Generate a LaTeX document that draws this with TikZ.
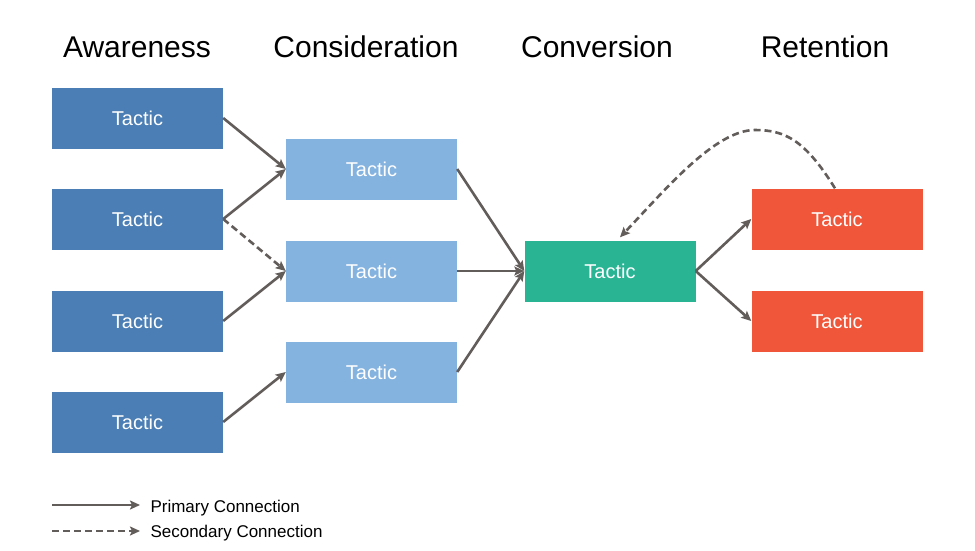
\documentclass[tikz,border=0pt]{standalone}
\usepackage{fontspec}
\setmainfont{Liberation Sans}
\usetikzlibrary{arrows.meta}
\definecolor{awareblue}{HTML}{4A7EB4}
\definecolor{considblue}{HTML}{85B3E0}
\definecolor{convgreen}{HTML}{29B494}
\definecolor{retred}{HTML}{F0573A}
\definecolor{linkgray}{HTML}{625D5A}
\begin{document}
\begin{tikzpicture}[x=1pt, y=-1pt,
    tactic/.style={minimum width=171pt, minimum height=61pt, inner sep=0pt,
      text=white, font=\fontsize{20}{24}\selectfont},
    primary/.style={draw=linkgray, line width=2.6pt, -{Stealth[length=10pt,width=9pt,inset=2pt]}},
    secondary/.style={primary, dash pattern=on 7pt off 4pt},
    heading/.style={anchor=base, font=\fontsize{30}{35}\selectfont}]
    \useasboundingbox (0,0) rectangle (975,550);
    % column headings
    \foreach \x/\m in {137/Awareness, 366/Consideration, 597/Conversion, 825/Retention} {
      \node[heading] at (\x,57) {\m};
    }
    % tactic boxes
    \foreach \i/\y in {1/118, 2/219, 3/321, 4/422} {
      \node[tactic, fill=awareblue] (a\i) at (137.5,\y) {Tactic};
    }
    \foreach \i/\y in {1/169, 2/271, 3/372} {
      \node[tactic, fill=considblue] (c\i) at (371.5,\y) {Tactic};
    }
    \node[tactic, fill=convgreen] (v) at (610,271) {Tactic};
    \node[tactic, fill=retred] (r1) at (837,219) {Tactic};
    \node[tactic, fill=retred] (r2) at (837,321) {Tactic};
    % connections
    \draw[primary] (a1.east) -- (c1.west);
    \draw[primary] (a2.east) -- (c1.west);
    \draw[secondary] (a2.east) -- (c2.west);
    \draw[primary] (a3.east) -- (c2.west);
    \draw[primary] (a4.east) -- (c3.west);
    \draw[primary] (c1.east) -- (v.west);
    \draw[primary] (c2.east) -- (v.west);
    \draw[primary] (c3.east) -- (v.west);
    \draw[primary] (v.east) -- (r1.west);
    \draw[primary] (v.east) -- (r2.west);
    \draw[secondary] ([xshift=-2pt]r1.north) .. controls (805,140) and (785,130) .. (755,130)
      .. controls (715,130) and (665,190) .. ([xshift=10pt,yshift=3pt]v.north);
    % legend
    \coordinate (p0) at (52,505);
    \coordinate (p1) at (140,505);
    \coordinate (s0) at (52,531);
    \coordinate (s1) at (140,531);
    \draw[primary] (p0) -- (p1);
    \draw[secondary] (s0) -- (s1);
    \node[anchor=base west, font=\fontsize{17}{20}\selectfont] (pl) at (147,512) {Primary Connection};
    \node[anchor=base west, font=\fontsize{17}{20}\selectfont] (sl) at (147,537) {Secondary Connection};
  \end{tikzpicture}
\end{document}
